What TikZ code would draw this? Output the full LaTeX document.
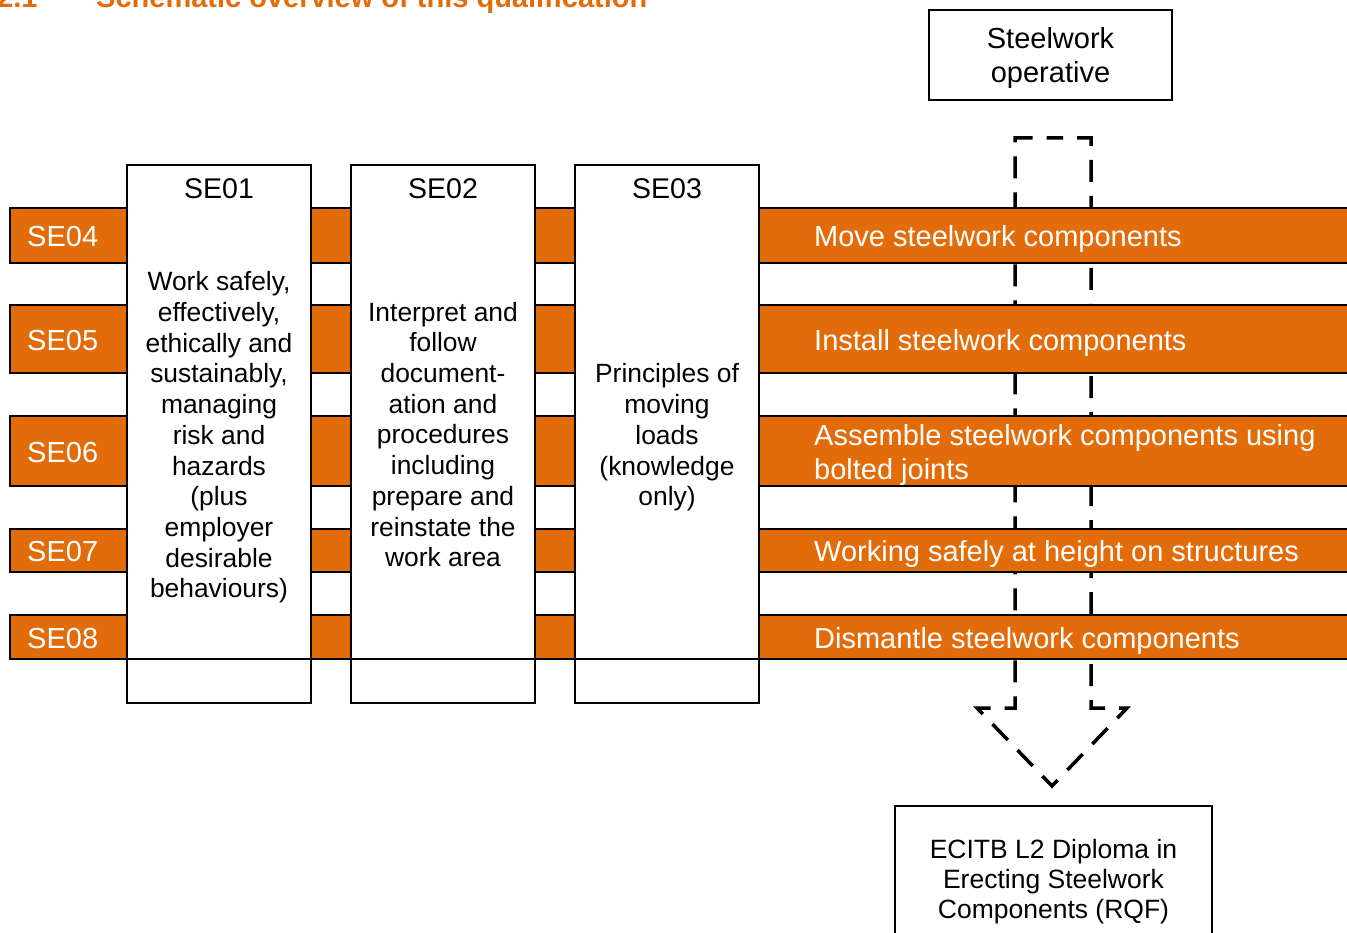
\documentclass[tikz,border=0pt]{standalone}
\usepackage{fontspec}
\setmainfont{Liberation Sans}
\definecolor{ecorange}{HTML}{E36C0A}
\begin{document}
\begin{tikzpicture}[x=1pt,y=-1pt,
  bar/.style={fill=ecorange, draw=black, line width=2.5pt},
  col/.style={fill=white, draw=black, line width=2.5pt},
  bartxt/.style={text=white, font=\fontsize{29}{34}\selectfont, inner sep=0pt, anchor=base west},
  coltxt/.style={font=\fontsize{26.4}{30.7}\selectfont, align=center, inner sep=0pt},
  head/.style={font=\fontsize{28.5}{34}\selectfont, inner sep=0pt, anchor=base},
  box/.style={draw=black, line width=1.2pt, fill=white, inner sep=0pt},
  dasharrow/.style={draw=black, line width=3.5pt, dash pattern=on 22pt off 14pt, dash phase=11pt},
  title/.style={text=ecorange, font=\bfseries\fontsize{29}{34}\selectfont, inner sep=0pt, anchor=base west}]
\useasboundingbox (0,0) rectangle (1347,933);
\clip (0,0) rectangle (1347,933);
% title (cut by the top edge, as in the reference)
\node[title] (tnum) at (-3,7.5) {2.1};
\node[title] (ttext) at (96,7.5) {Schematic overview of this qualification};
% dashed block arrow (behind the bars)
\draw[dasharrow] (1052,138) -- (1091,138) -- (1091,708) -- (1127,708) -- (1052,786)
   -- (977,708) -- (1015,708) -- (1015,138) -- cycle;
% orange bars
\draw[bar] (10,208) rectangle (1355,263);
\draw[bar] (10,305) rectangle (1355,373);
\draw[bar] (10,416) rectangle (1355,486);
\draw[bar] (10,529) rectangle (1355,572);
\draw[bar] (10,615) rectangle (1355,659);
\node[bartxt] (se04) at (27,246.4) {SE04};
\node[bartxt] (se05) at (27,350.4) {SE05};
\node[bartxt] (se06) at (27,462.4) {SE06};
\node[bartxt] (se07) at (27,561.4) {SE07};
\node[bartxt] (se08) at (27,648.4) {SE08};
\node[bartxt] (t04) at (814,246.4) {Move steelwork components};
\node[bartxt] (t05) at (814,350.4) {Install steelwork components};
\node[bartxt] (t06a) at (814,445.4) {Assemble steelwork components using};
\node[bartxt] (t06b) at (814,479.4) {bolted joints};
\node[bartxt] (t07) at (814,561.4) {Working safely at height on structures};
\node[bartxt] (t08) at (814,648.4) {Dismantle steelwork components};
% columns
\draw[col] (127,165) rectangle (311,703);
\draw[col] (351,165) rectangle (535,703);
\draw[col] (575,165) rectangle (759,703);
\draw[line width=2.5pt] (127,659) -- (311,659) (351,659) -- (535,659) (575,659) -- (759,659);
\node[head] (se01) at (219,198.4) {SE01};
\node[head] (se02) at (443,198.4) {SE02};
\node[head] (se03) at (667,198.4) {SE03};
\node[coltxt] (c1) at (219,437.5) {Work safely,\\effectively,\\ethically and\\sustainably,\\managing\\risk and\\hazards\\(plus\\employer\\desirable\\behaviours)};
\node[coltxt] (c2) at (443,434.5) {Interpret and\\follow\\document-\\ation and\\procedures\\including\\prepare and\\reinstate the\\work area};
\node[coltxt] (c3) at (667,437.5) {Principles of\\moving\\loads\\(knowledge\\only)};
% top and bottom boxes
\node[box, minimum width=243pt, minimum height=90pt] (oper) at (1050.5,55) {};
\node[align=center, inner sep=0pt, font=\fontsize{29}{34}\selectfont] (opertxt) at (1050.5,58) {Steelwork\\operative};
\node[box, minimum width=317pt, minimum height=160pt] (dipbox) at (1053.5,886) {};
\node[coltxt, font=\fontsize{26.5}{30}\selectfont] (dip) at (1053.5,882) {ECITB L2 Diploma in\\Erecting Steelwork\\Components (RQF)};
\end{tikzpicture}
\end{document}
